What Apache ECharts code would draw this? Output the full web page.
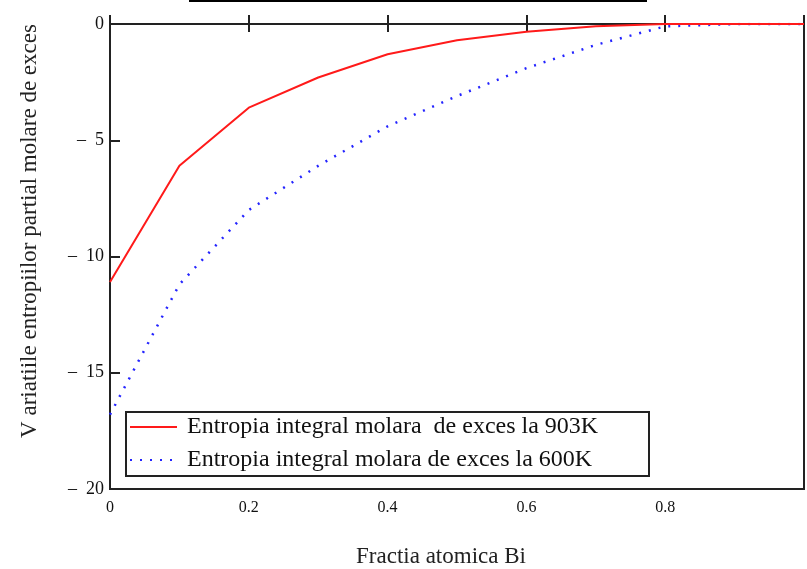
<!DOCTYPE html>
<html>
<head>
<meta charset="utf-8">
<script src="https://cdn.jsdelivr.net/npm/echarts@6/dist/echarts.min.js"></script>
<style>
html,body{margin:0;padding:0;background:#fff;}
#chart{width:807px;height:569px;}
</style>
</head>
<body>
<div id="chart"></div>
<script>
var xValues = [0, 0.1, 0.2, 0.3, 0.4, 0.5, 0.6, 0.7, 0.8, 0.9, 1.0];
var red903 = [-11.1, -6.1, -3.6, -2.3, -1.3, -0.7, -0.33, -0.1, 0, 0, 0];
var blue600 = [-16.8, -11.2, -8.0, -6.1, -4.4, -3.1, -1.9, -0.9, -0.1, 0, 0];
var seriesNames = ['Entropia integral molara  de exces la 903K', 'Entropia integral molara de exces la 600K'];
var yAxisTitle = 'V ariatiile entropiilor partial molare de exces';
var xAxisTitle = 'Fractia atomica Bi';

function pairs(xs, ys) { return xs.map(function (x, i) { return [x, ys[i]]; }); }

var serif = 'Liberation Serif';
var chart = echarts.init(document.getElementById('chart'), null, {renderer: 'canvas'});
chart.setOption({
  animation: false,
  backgroundColor: '#fff',
  grid: {left: 110, top: 24, right: 1, bottom: 80, show: true, borderColor: '#222', borderWidth: 2},
  xAxis: [{
    type: 'value', min: 0, max: 1, interval: 0.2, position: 'bottom',
    axisLine: {show: true, lineStyle: {color: '#222', width: 2}},
    axisTick: {show: true, inside: true, length: 9, lineStyle: {color: '#222', width: 2}},
    axisLabel: {show: true, margin: 11, color: '#111', fontFamily: serif, fontSize: 16,
      formatter: function (v) { return v >= 1 ? '' : String(v); }},
    splitLine: {show: false}
  }, {
    type: 'value', min: 0, max: 1, interval: 0.2, position: 'top',
    axisLine: {show: true, lineStyle: {color: '#222', width: 2}},
    axisTick: {show: true, inside: true, length: 8, lineStyle: {color: '#222', width: 2}},
    axisLabel: {show: false}, splitLine: {show: false}
  }],
  yAxis: [{
    type: 'value', min: -20, max: 0, interval: 5,
    axisLine: {show: true, lineStyle: {color: '#222', width: 2}},
    axisTick: {show: true, inside: true, length: 10, lineStyle: {color: '#222', width: 2}},
    axisLabel: {show: true, margin: 6, color: '#111', fontFamily: serif, fontSize: 18,
      formatter: function (v) { return v === 0 ? '0' : '\u2013  ' + Math.abs(v); }},
    splitLine: {show: false}
  }],
  legend: {
    left: 129, top: 415, orient: 'vertical', itemGap: 9, itemWidth: 47, itemHeight: 14,
    padding: 0,
    itemStyle: {opacity: 0},
    textStyle: {fontFamily: serif, fontSize: 24, color: '#111', padding: [0, 0, 0, 5]},
    data: seriesNames
  },
  graphic: [
    {type: 'line', shape: {x1: 189, y1: 1, x2: 647, y2: 1}, style: {stroke: '#000', lineWidth: 2}},
    {type: 'rect', shape: {x: 126, y: 412, width: 523, height: 64}, style: {fill: 'rgba(0,0,0,0)', stroke: '#222', lineWidth: 2}, z: 100},
    {type: 'text', x: 30, y: 231, rotation: Math.PI / 2,
      style: {text: yAxisTitle, fontFamily: serif, fontSize: 23, fill: '#222', textAlign: 'center', textVerticalAlign: 'middle'}},
    {type: 'text', x: 441, y: 557,
      style: {text: xAxisTitle, fontFamily: serif, fontSize: 23, fill: '#222', textAlign: 'center', textVerticalAlign: 'middle'}}
  ],
  series: [{
    name: seriesNames[0], type: 'line', symbol: 'none', data: pairs(xValues, red903),
    lineStyle: {color: '#ff1a1a', width: 2}, itemStyle: {color: '#ff1a1a'}, z: 3
  }, {
    name: seriesNames[1], type: 'line', symbol: 'none', data: pairs(xValues, blue600),
    lineStyle: {color: '#2424ff', width: 2.5, type: [2, 8]}, itemStyle: {color: '#2424ff'}, z: 2
  }]
});
</script>
</body>
</html>
